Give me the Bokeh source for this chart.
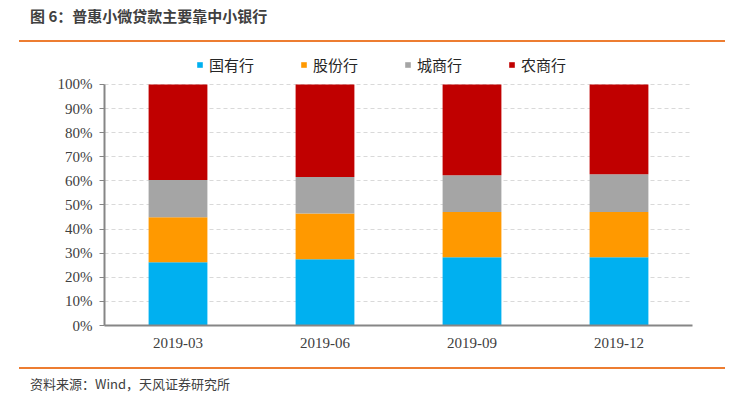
from bokeh.plotting import figure
from bokeh.models import (Div, Legend, LegendItem, NumeralTickFormatter, FixedTicker,
                          ColumnDataSource, Range1d, FactorRange)
from bokeh.layouts import column
from bokeh.embed import file_html
from bokeh.resources import INLINE

# ---- data (shares, %) ----
periods = ["2019-03", "2019-06", "2019-09", "2019-12"]
series_names = ["国有行", "股份行", "城商行", "农商行"]
state_owned = [26.2, 27.5, 28.3, 28.3]
joint_stock = [18.7, 19.0, 18.8, 18.8]
city_comm = [15.5, 15.1, 15.2, 15.6]
rural_comm = [39.6, 38.4, 37.7, 37.3]
y_ticks = [0, 0.1, 0.2, 0.3, 0.4, 0.5, 0.6, 0.7, 0.8, 0.9, 1.0]

colors = ["#00B0F0", "#FF9900", "#A5A5A5", "#C00000"]
keys = ["s", "j", "c", "r"]

source = ColumnDataSource(dict(
    period=periods,
    s=[v / 100 for v in state_owned],
    j=[v / 100 for v in joint_stock],
    c=[v / 100 for v in city_comm],
    r=[v / 100 for v in rural_comm],
))

W = 733
# frame: 241 px for 0..100%, plus headroom above for the legend
p = figure(x_range=FactorRange(*periods), y_range=Range1d(0, 1 + 32 / 241.3),
           width=W, height=316, output_backend="svg", toolbar_location=None,
           min_border_left=104, min_border_right=41, min_border_top=10,
           min_border_bottom=33)
p.outline_line_color = None
p.background_fill_color = "white"
p.border_fill_color = "white"

rs = p.vbar_stack(keys, x="period", width=0.4, color=colors, line_color=None,
                  source=source)

# axes
p.xgrid.grid_line_color = None
p.ygrid.grid_line_color = "#D9D9D9"
p.ygrid.grid_line_dash = "4 3"
p.ygrid.grid_line_width = 1
p.yaxis.bounds = (0, 1)
p.yaxis.ticker = FixedTicker(ticks=y_ticks)
p.yaxis.formatter = NumeralTickFormatter(format="0%")
p.yaxis.minor_tick_line_color = None
p.yaxis.major_tick_in = 0
p.yaxis.major_tick_out = 5
p.yaxis.major_tick_line_color = "#868686"
p.yaxis.axis_line_color = "#868686"
p.yaxis.axis_line_width = 2
p.yaxis.major_label_text_font = "Liberation Serif"
p.yaxis.major_label_text_font_size = "15px"
p.yaxis.major_label_text_color = "#404040"
p.yaxis.major_label_standoff = 7

p.xaxis.major_tick_line_color = None
p.xaxis.axis_line_color = "#868686"
p.xaxis.axis_line_width = 2
p.xaxis.major_label_text_font = "Liberation Serif"
p.xaxis.major_label_text_font_size = "15px"
p.xaxis.major_label_text_color = "#404040"
p.xaxis.major_label_standoff = 6

legend = Legend(items=[LegendItem(label=n, renderers=[r]) for n, r in zip(series_names, rs)],
                orientation="horizontal", location=(92, 250), spacing=46,
                glyph_width=7, glyph_height=7, label_standoff=6,
                border_line_color=None, background_fill_alpha=0,
                padding=0, margin=0,
                label_text_font="Noto Sans CJK SC", label_text_font_size="15px",
                label_text_color="#262626")
p.add_layout(legend, "center")

title = Div(text=(
    "<div style=\"margin-left:19px;width:706px;height:42px;box-sizing:border-box;"
    "border-bottom:2px solid #ED7D31;padding-left:11px;padding-top:8px;"
    "font-family:'Noto Sans CJK SC';font-weight:bold;font-size:15px;line-height:15px;"
    "color:#404040;\">图 6：普惠小微贷款主要靠中小银行</div>"),
    width=W, height=42, margin=0)

footer = Div(text=(
    "<div style=\"margin-left:19px;width:706px;margin-top:9px;box-sizing:border-box;"
    "border-top:2px solid #ED7D31;padding-left:11px;padding-top:8px;"
    "font-family:'Noto Sans CJK SC';font-size:13px;line-height:14px;color:#404040;\">"
    "资料来源：Wind，天风证券研究所</div>"), width=W, height=39, margin=0)

layout = column(title, p, footer, spacing=0)
open("out.html", "w").write(file_html(layout, INLINE))
